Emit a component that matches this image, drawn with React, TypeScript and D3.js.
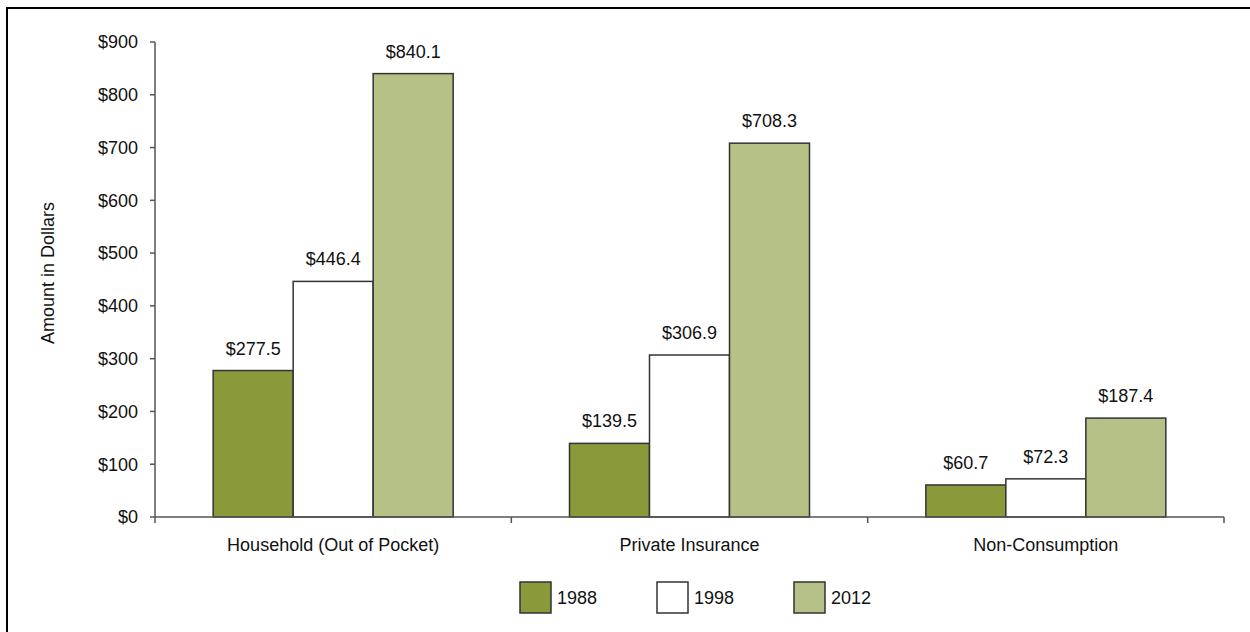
import React from "react";
import * as d3 from "d3";

const categories = ["Household (Out of Pocket)", "Private Insurance", "Non-Consumption"];
const years = ["1988", "1998", "2012"];
const values1988 = [277.5, 139.5, 60.7];
const values1998 = [446.4, 306.9, 72.3];
const values2012 = [840.1, 708.3, 187.4];
const yTicks = [0, 100, 200, 300, 400, 500, 600, 700, 800, 900];
const colors = ["#8a9a3b", "#ffffff", "#b5c186"];

const W = 1250;
const H = 632;
const FONT = "'Liberation Sans', Arial, Helvetica, sans-serif";

export default function App() {
  const series = [values1988, values1998, values2012];
  const x0 = d3.scaleBand<string>().domain(categories).range([155, 1224]).padding(0);
  const bw = x0.bandwidth();
  const groupPad = (bw - 240) / 2;
  const x1 = d3.scaleBand<string>().domain(years).range([groupPad, bw - groupPad]).padding(0);
  const y = d3.scaleLinear().domain([0, 900]).range([517, 42]);
  const fmt = (v: number) => "$" + v.toFixed(1);

  const legendX = [520, 657, 794];

  return (
    <svg
      width={W}
      height={H}
      style={{ position: "absolute", left: 0, top: 0, background: "#fff" }}
      fontFamily={FONT}
    >
      <rect x={7} y={8} width={W + 20} height={H + 20} fill="#fff" stroke="#000" strokeWidth={2} />

      {/* y axis */}
      <line x1={155} x2={155} y1={y(900)} y2={y(0)} stroke="#555" strokeWidth={1.5} />
      {yTicks.map((t) => (
        <g key={t}>
          <line x1={150} x2={155} y1={y(t)} y2={y(t)} stroke="#555" strokeWidth={1.5} />
          <text x={138} y={y(t)} dy="0.35em" textAnchor="end" fontSize={18} fill="#111">
            {"$" + t}
          </text>
        </g>
      ))}
      <text
        transform={`translate(54,273) rotate(-90)`}
        textAnchor="middle"
        fontSize={18}
        fill="#111"
      >
        Amount in Dollars
      </text>

      {/* bars */}
      {categories.map((c, ci) => (
        <g key={c} transform={`translate(${x0(c)},0)`}>
          {years.map((yr, si) => {
            const v = series[si][ci];
            const bx = x1(yr)!;
            return (
              <g key={yr}>
                <rect
                  x={bx}
                  y={y(v)}
                  width={x1.bandwidth()}
                  height={y(0) - y(v)}
                  fill={colors[si]}
                  stroke="#333"
                  strokeWidth={1.5}
                />
                <text
                  x={bx + x1.bandwidth() / 2}
                  y={y(v) - 16}
                  textAnchor="middle"
                  fontSize={18}
                  fill="#111"
                >
                  {fmt(v)}
                </text>
              </g>
            );
          })}
        </g>
      ))}

      {/* x axis */}
      <line x1={155} x2={1224} y1={y(0)} y2={y(0)} stroke="#555" strokeWidth={1.5} />
      {[...categories.map((c) => x0(c)!), 1224].map((px, i) => (
        <line key={i} x1={px} x2={px} y1={y(0)} y2={y(0) + 6} stroke="#555" strokeWidth={1.5} />
      ))}
      {categories.map((c) => (
        <text key={c} x={x0(c)! + bw / 2} y={551} textAnchor="middle" fontSize={18} fill="#111">
          {c}
        </text>
      ))}

      {/* legend */}
      {years.map((yr, i) => (
        <g key={yr}>
          <rect x={legendX[i]} y={582} width={31} height={31} fill={colors[i]} stroke="#333" strokeWidth={1.5} />
          <text x={legendX[i] + 37} y={604} fontSize={18} fill="#111">
            {yr}
          </text>
        </g>
      ))}
    </svg>
  );
}
